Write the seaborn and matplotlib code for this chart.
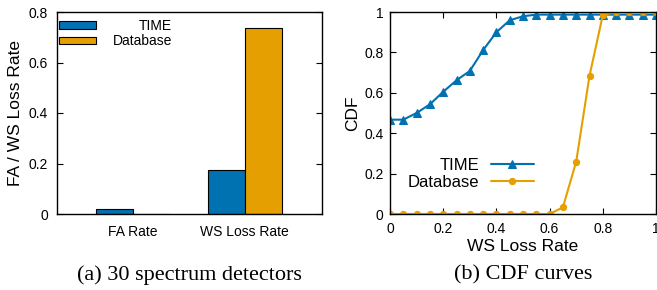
import pandas as pd
import matplotlib.pyplot as plt
import seaborn as sns
from matplotlib.patches import Patch
from matplotlib.ticker import FormatStrFormatter
from matplotlib.transforms import Affine2D

sns.set_style('ticks')
plt.rcParams['font.family'] = ['Liberation Sans', 'DejaVu Sans']
for key in ['text.color', 'axes.labelcolor', 'xtick.color', 'ytick.color', 'axes.edgecolor']:
    plt.rcParams[key] = 'black'

# data
methods = ['TIME', 'Database']
colors = ['#0072B2', '#E69F00']

# (a) 30 spectrum detectors
metrics = ['FA Rate', 'WS Loss Rate']
time_rates = [0.02, 0.173]
db_rates = [0.0, 0.737]

# (b) CDF curves
loss_rate = [0.0, 0.05, 0.1, 0.15, 0.2, 0.25, 0.3, 0.35, 0.4, 0.45, 0.5,
             0.55, 0.6, 0.65, 0.7, 0.75, 0.8, 0.85, 0.9, 0.95, 1.0]
time_cdf = [0.467, 0.467, 0.50, 0.543, 0.605, 0.662, 0.708, 0.811, 0.90, 0.959, 0.979,
            0.987, 0.987, 0.987, 0.987, 0.987, 0.987, 0.987, 0.987, 0.987, 0.987]
db_cdf = [0, 0, 0, 0, 0, 0, 0, 0, 0, 0, 0,
          0, 0, 0.033, 0.259, 0.684, 0.985, 1.0, 1.0, 1.0, 1.0]

bar_df = pd.DataFrame({
    'metric': metrics * 2,
    'method': ['TIME'] * 2 + ['Database'] * 2,
    'rate': time_rates + db_rates,
})

fig = plt.figure(figsize=(6.57, 2.90), dpi=100)
ax1 = fig.add_axes([57 / 657, 76 / 290, 265 / 657, 202 / 290])
ax2 = fig.add_axes([390 / 657, 76 / 290, 266 / 657, 202 / 290])

# --- left: bars
sns.barplot(data=bar_df, x='metric', y='rate', hue='method', hue_order=methods,
            palette=colors, saturation=1, width=0.66, edgecolor='black',
            linewidth=0.8, legend=False, ax=ax1)
ax1.set_xlim(-0.68, 1.69)
ax1.set_ylim(0, 0.8)
ax1.set_yticks([0, 0.2, 0.4, 0.6, 0.8])
ax1.yaxis.set_major_formatter(FormatStrFormatter('%g'))
ax1.set_xlabel('')
ax1.set_ylabel('FA / WS Loss Rate', fontsize=12.5)
ax1.yaxis.set_label_coords(-0.128, 0.5)
ax1.tick_params(axis='y', direction='in', length=4, width=0.8, left=True, right=True,
                labelsize=10, pad=6.5)
ax1.tick_params(axis='x', length=0, labelsize=10, pad=8)

handles = [Patch(facecolor=c, edgecolor='black', linewidth=0.8) for c in colors]
leg1 = ax1.legend(handles, methods, loc='upper left', bbox_to_anchor=(0.0075, 0.965),
                  frameon=False, fontsize=10, handlelength=2.7, handleheight=0.5,
                  handletextpad=1.15, labelspacing=0.1, borderpad=0, borderaxespad=0)

# --- right: CDF
sns.lineplot(x=loss_rate, y=time_cdf, color=colors[0], marker='^', markersize=5.5,
             markeredgecolor=colors[0], linewidth=1.5, label='TIME', ax=ax2)
sns.lineplot(x=loss_rate, y=db_cdf, color=colors[1], marker='o', markersize=4.5,
             markeredgecolor=colors[1], linewidth=1.5, label='Database', ax=ax2)
ax2.set_xlim(0, 1)
ax2.set_ylim(0, 1)
ax2.set_xticks([0, 0.2, 0.4, 0.6, 0.8, 1])
ax2.set_yticks([0, 0.2, 0.4, 0.6, 0.8, 1])
ax2.xaxis.set_major_formatter(FormatStrFormatter('%g'))
ax2.yaxis.set_major_formatter(FormatStrFormatter('%g'))
ax2.set_xlabel('WS Loss Rate', fontsize=12.5)
ax2.set_ylabel('CDF', fontsize=12.5)
ax2.yaxis.set_label_coords(-0.113, 0.5)
ax2.xaxis.set_label_coords(0.5, -0.125)
ax2.tick_params(direction='in', length=4, width=0.8, top=True, right=True, labelsize=10)
ax2.tick_params(axis='y', pad=4.5)
ax2.tick_params(axis='x', pad=6)
ax2.legend(loc='center right', bbox_to_anchor=(0.541, 0.198), markerfirst=False,
           frameon=False, fontsize=12, handlelength=2.6, handletextpad=0.7,
           labelspacing=0.1, borderpad=0, borderaxespad=0)

for ax in (ax1, ax2):
    for sp in ax.spines.values():
        sp.set_visible(True)
        sp.set_color('black')
        sp.set_linewidth(1.0)

# captions
cap = dict(family=['Liberation Serif', 'DejaVu Serif'], fontsize=16, ha='center', va='center')
fig.text(189 / 657, 1 - 275 / 290, '(a) 30 spectrum detectors', **cap)
fig.text(523 / 657, 1 - 275 / 290, '(b) CDF curves', **cap)

# right-justify left legend labels like gnuplot
fig.canvas.draw()
texts = leg1.get_texts()
widths = [t.get_window_extent().width for t in texts]
for t, w in zip(texts, widths):
    t.set_transform(t.get_transform() + Affine2D().translate(max(widths) - w, 0))

fig.savefig('out.png', dpi=100)
